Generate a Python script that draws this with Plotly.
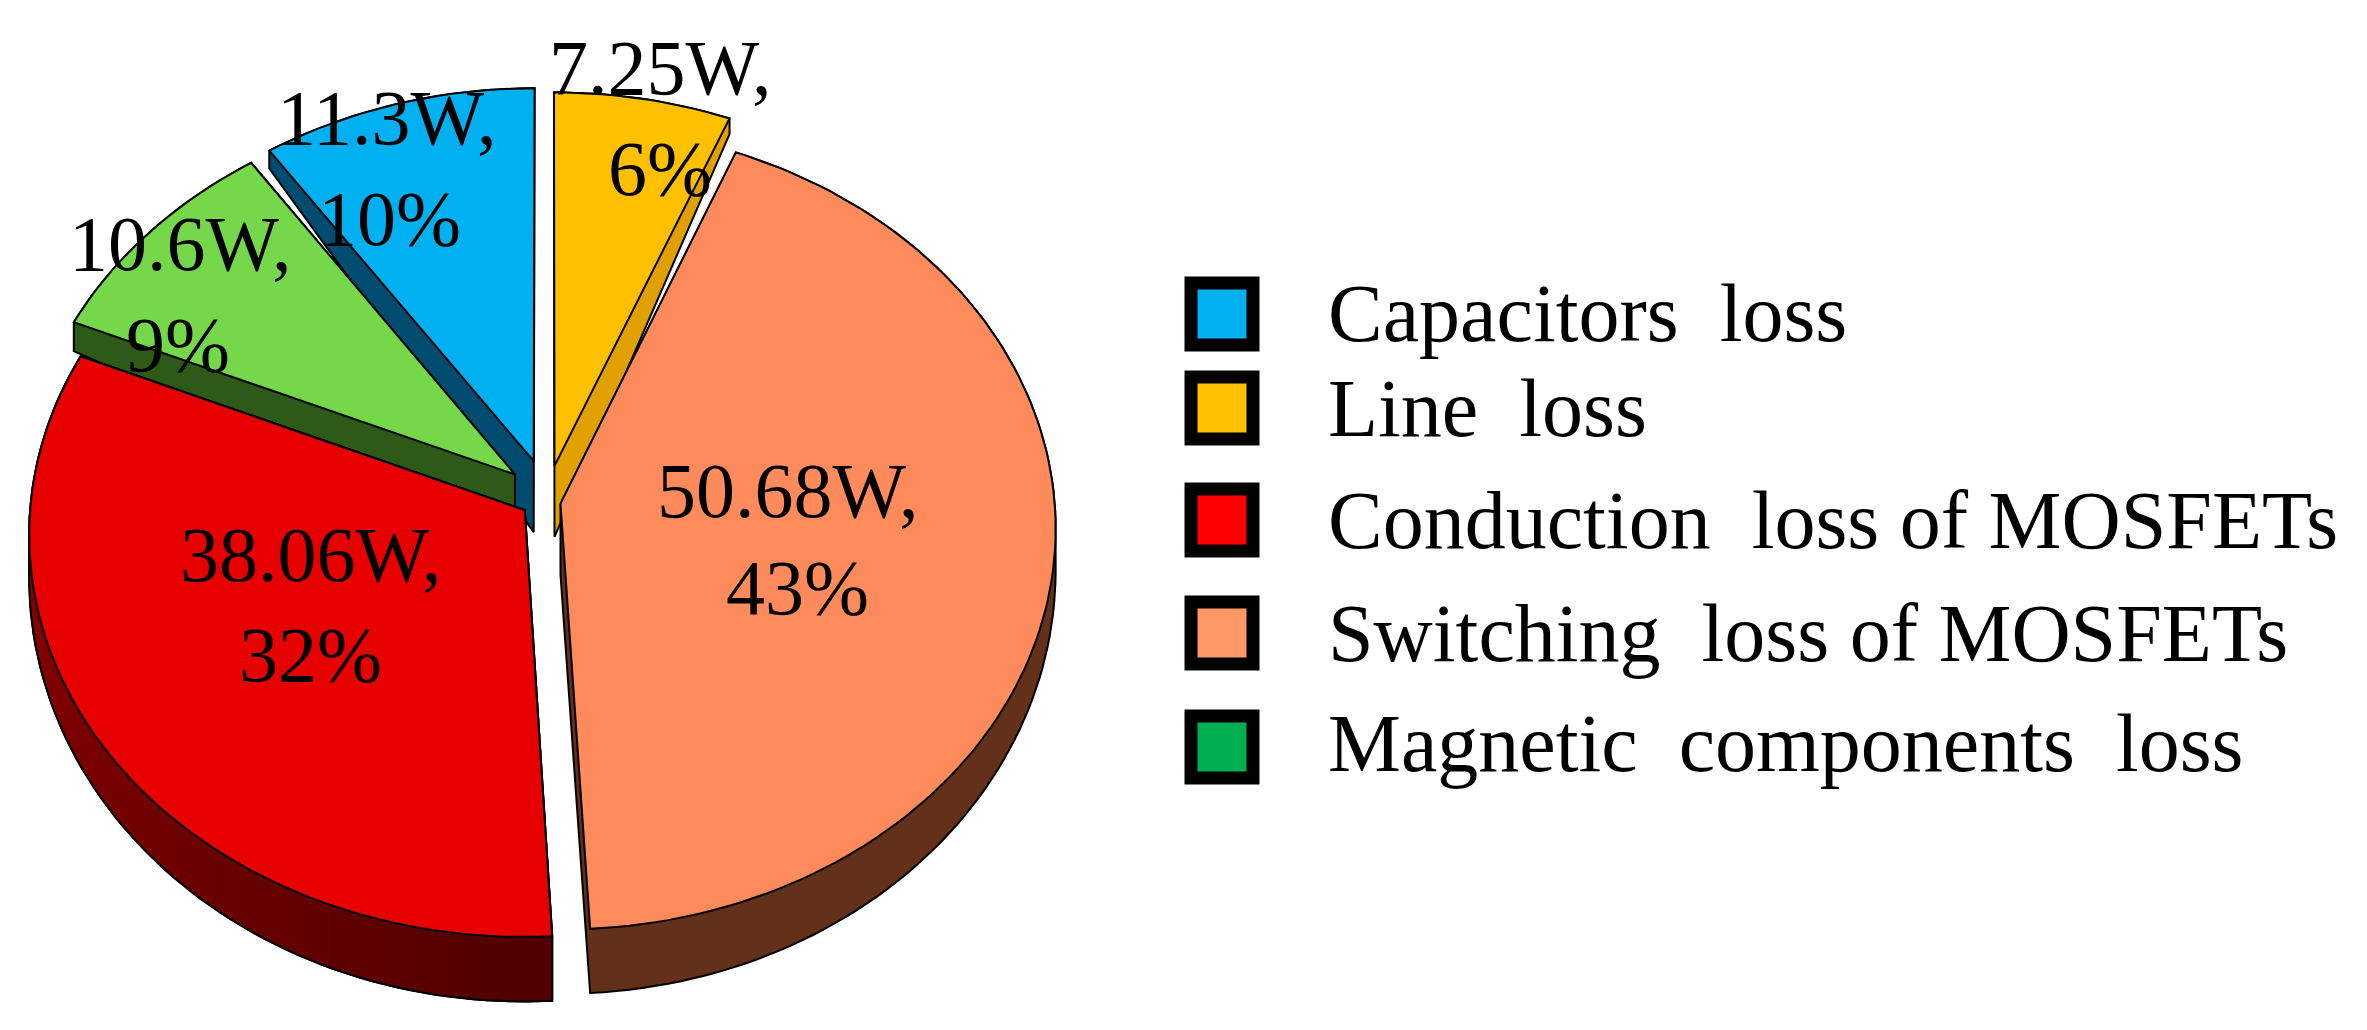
import math
import plotly.graph_objects as go

# ---- data (clockwise from 12 o'clock) ----
slice_names = ["Line loss", "Switching loss of MOSFETs", "Conduction loss of MOSFETs",
               "Magnetic components loss", "Capacitors loss"]
slice_watts = [7.25, 50.68, 38.06, 10.6, 11.3]

legend_names = ["Capacitors  loss", "Line  loss", "Conduction  loss of MOSFETs",
                "Switching  loss of MOSFETs", "Magnetic  components  loss"]

# ---- style ----
top_colors = ["#FFC000", "#FF8A5C", "#E60000", "#75D84A", "#00B0F0"]
wall_colors = ["#E0A000", "#63301A", "#760000", "#2D5A17", "#004C70"]
legend_colors = ["#00B0F0", "#FFC000", "#FF0000", "#FF9966", "#00B050"]
explode = [0.09, 0.04, 0.04, 0.105, 0.105]
nudge_x = [5, 0, 0, 14, 8]
draw_order = [0, 4, 3, 1, 2]
label_xy = [(652, 59, 652, 160), (779, 482, 789, 579), (302, 546, 302, 646),
            (172, 235, 170, 336), (379, 109, 381, 210)]
legend_marker_y = [306, 400, 512, 625, 739]
legend_text_y = [305, 400, 512, 625, 735]
CX, CY, RX, RY, PERSP = 533, 493, 494, 400, 0.06
FONT = "Liberation Serif"


def project(u, v):
    w = 1 + PERSP * v
    return CX + RX * u / w, CY - RY * v / w


def depth(v):
    return 40 - 24 * v


def hull(points):
    pts = sorted(set(points))
    def half(seq):
        out = []
        for p in seq:
            while len(out) > 1 and ((out[-1][0] - out[-2][0]) * (p[1] - out[-2][1])
                                    - (out[-1][1] - out[-2][1]) * (p[0] - out[-2][0])) <= 0:
                out.pop()
            out.append(p)
        return out[:-1]
    h = half(pts) + half(pts[::-1])
    return h + h[:1]


def red_shade(t):
    # dark at the right-hand end of the conduction slice wall, lighter towards the left
    return f"rgb({int(80 + (138 - 80) * t)},0,0)"


total = sum(slice_watts)
fig = go.Figure()
starts = [sum(slice_watts[:i]) / total * 2 * math.pi for i in range(len(slice_watts))]
ends = [sum(slice_watts[:i + 1]) / total * 2 * math.pi for i in range(len(slice_watts))]

for i in draw_order:
    a0, a1 = starts[i], ends[i]
    mid = (a0 + a1) / 2
    ou, ov = explode[i] * math.sin(mid), explode[i] * math.cos(mid)
    n = max(8, int((a1 - a0) * 40))
    arc = [(ou + math.sin(a0 + (a1 - a0) * k / n), ov + math.cos(a0 + (a1 - a0) * k / n)) for k in range(n + 1)]
    top = [project(ou, ov)] + [project(u, v) for u, v in arc]
    top = [(x + nudge_x[i], y) for x, y in top]
    ax, ay = top[0]
    bottom = [(ax, ay + 71)] + [(tp[0], tp[1] + depth(v)) for tp, (u, v) in zip(top[1:], arc)]
    wall = hull(top + bottom)
    fig.add_trace(go.Scatter(x=[p[0] for p in wall], y=[p[1] for p in wall], mode="lines", fill="toself",
                             fillcolor=wall_colors[i], line=dict(color="#000000", width=2),
                             hoverinfo="skip", showlegend=False))
    if i == 2:
        for k in range(n):
            t = min(1.0, k / (n * 0.75))
            c = red_shade(t)
            q = [top[k + 1], top[k + 2], bottom[k + 2], bottom[k + 1], top[k + 1]]
            fig.add_trace(go.Scatter(x=[p[0] for p in q], y=[p[1] for p in q], mode="lines", fill="toself",
                                     fillcolor=c, line=dict(color=c, width=1),
                                     hoverinfo="skip", showlegend=False))
        fig.add_trace(go.Scatter(x=[p[0] for p in wall], y=[p[1] for p in wall], mode="lines",
                                 line=dict(color="#000000", width=2), hoverinfo="skip", showlegend=False))
    top = top + top[:1]
    fig.add_trace(go.Scatter(x=[p[0] for p in top], y=[p[1] for p in top], mode="lines", fill="toself",
                             fillcolor=top_colors[i], line=dict(color="#000000", width=2),
                             name=slice_names[i], showlegend=False,
                             text=f"{slice_names[i]}: {slice_watts[i]}W", hoverinfo="text"))

annotations = []
for i, w in enumerate(slice_watts):
    x1, y1, x2, y2 = label_xy[i]
    annotations.append(dict(x=x1, y=y1, text=f"{w}W,", showarrow=False, xref="x", yref="y",
                            font=dict(family=FONT, size=78, color="#000000")))
    annotations.append(dict(x=x2, y=y2, text=f"{round(100 * w / total)}%", showarrow=False, xref="x", yref="y",
                            font=dict(family=FONT, size=78, color="#000000")))

fig.add_trace(go.Scatter(x=[1199 + 15] * 5, y=legend_marker_y, mode="markers", hoverinfo="skip", showlegend=False,
                         marker=dict(symbol="square", size=62, color=legend_colors,
                                     line=dict(color="#000000", width=13))))
for name, y in zip(legend_names, legend_text_y):
    annotations.append(dict(x=1318, y=y, text=name, showarrow=False, xref="x", yref="y", xanchor="left",
                            font=dict(family=FONT, size=82, color="#000000")))

fig.update_layout(width=2367, height=1030, margin=dict(l=0, r=0, t=0, b=0), showlegend=False,
                  paper_bgcolor="#FFFFFF", plot_bgcolor="#FFFFFF", annotations=annotations,
                  xaxis=dict(range=[0, 2367], visible=False, fixedrange=True),
                  yaxis=dict(range=[1030, 0], visible=False, fixedrange=True))
fig.write_html("out.html")
